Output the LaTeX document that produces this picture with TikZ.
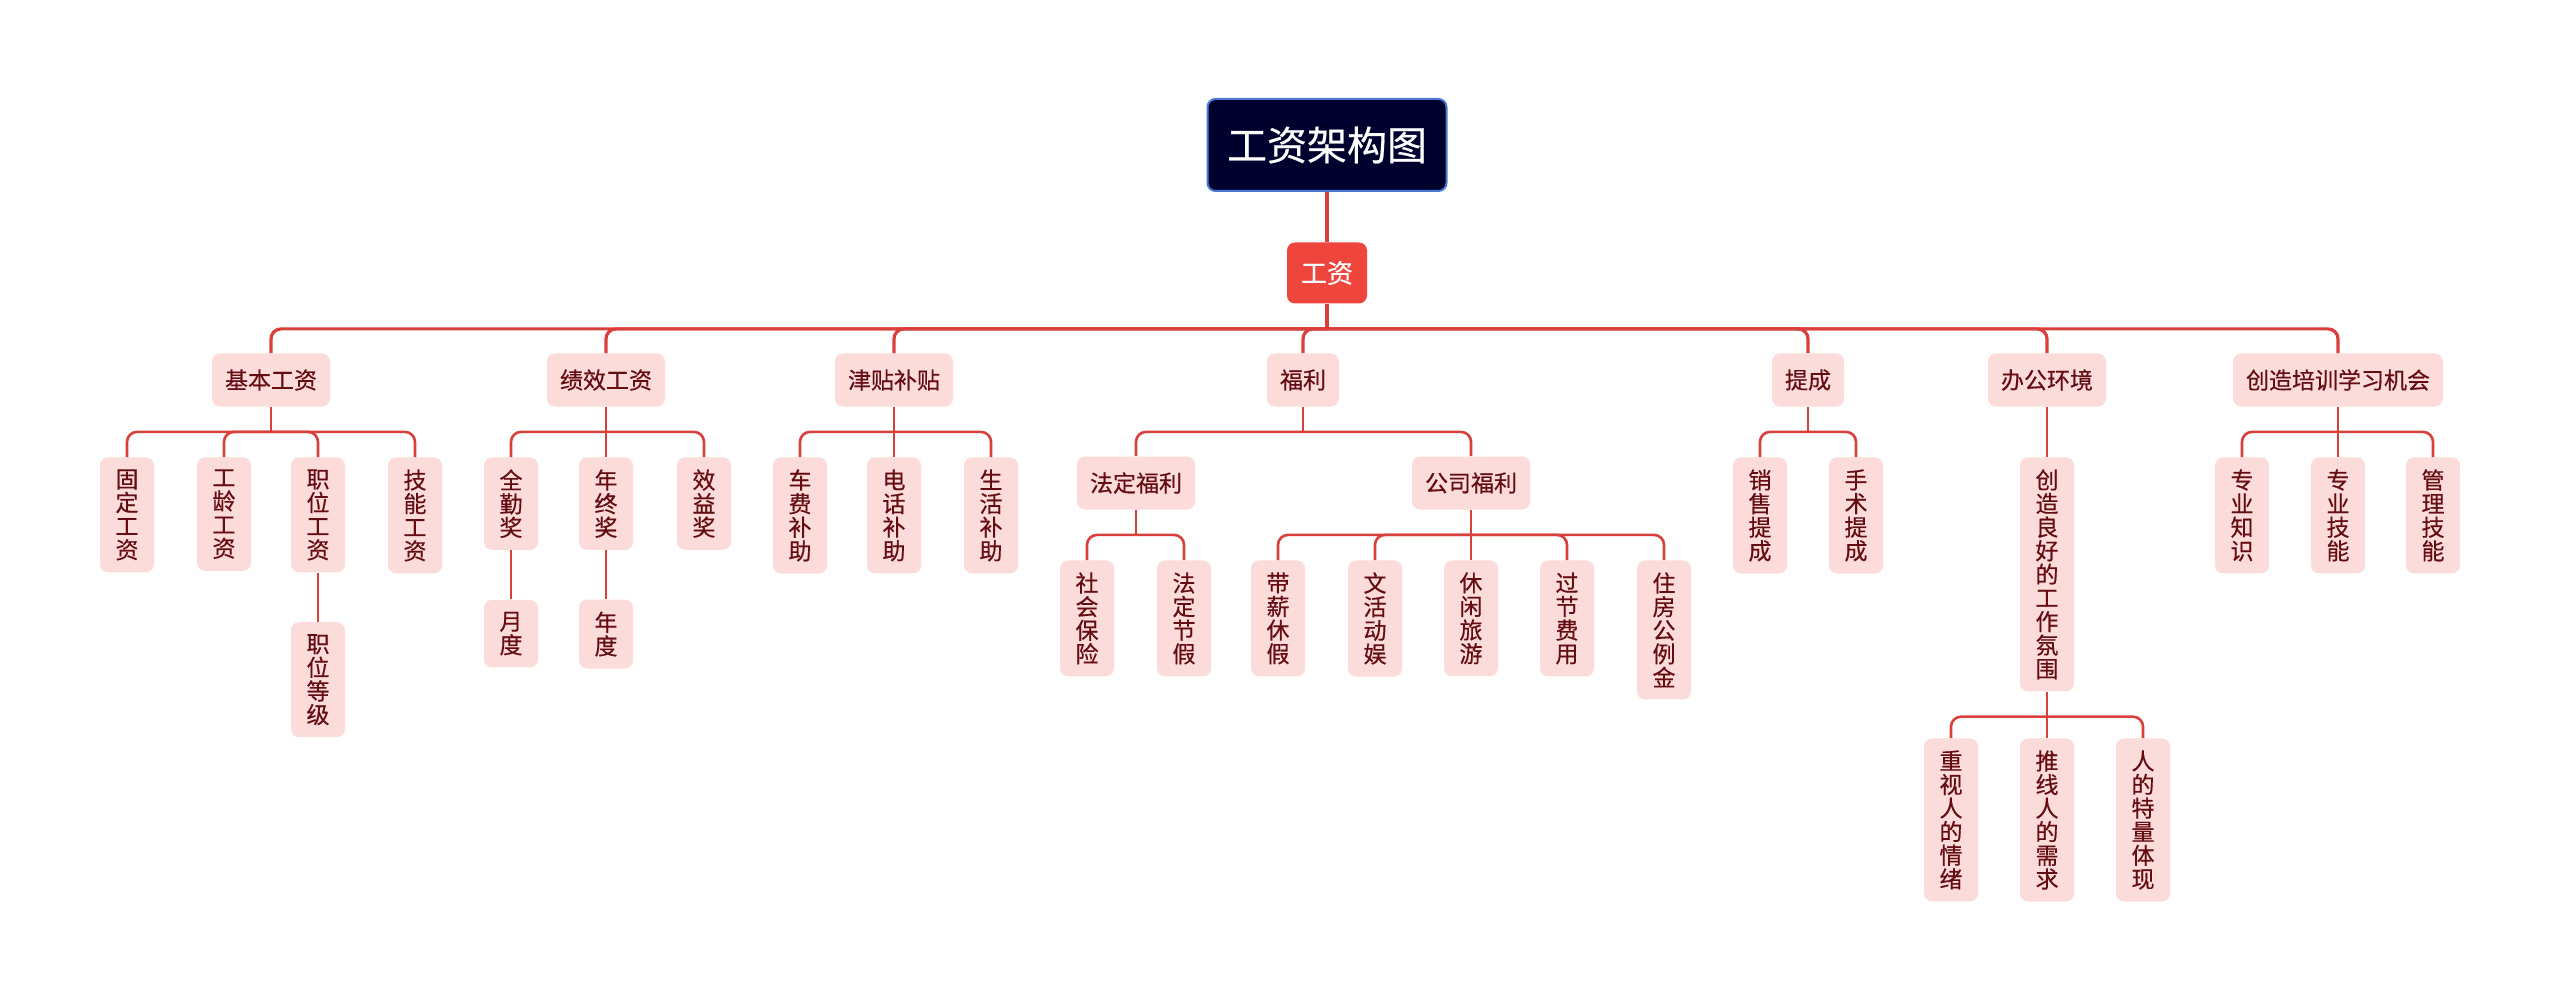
\documentclass[tikz,border=0pt]{standalone}
\usepackage{fontspec}
\setmainfont{Noto Sans CJK SC}[UprightFeatures={FakeBold=0.4}]
\usetikzlibrary{positioning}
\definecolor{rootbg}{HTML}{00002E}
\definecolor{rootline}{HTML}{4A7BD4}
\definecolor{mainred}{HTML}{EE463C}
\definecolor{linkred}{HTML}{D9403C}
\definecolor{boxpink}{HTML}{FCDCDA}
\definecolor{boxtext}{HTML}{640C12}

\begin{document}
\begin{tikzpicture}[x=0.5pt,y=-0.5pt,
 root/.style={draw=rootline,line width=1pt,fill=rootbg,text=white,rounded corners=4pt,minimum width=119.5pt,minimum height=46pt,font=\fontsize{20}{24}\selectfont},
 main/.style={fill=mainred,text=white,rounded corners=4pt,minimum width=40pt,minimum height=30.5pt,font=\fontsize{13}{15}\selectfont},
 topic/.style={fill=boxpink,text=boxtext,rounded corners=4pt,minimum height=26.5pt,inner xsep=6.5pt,font=\fontsize{11.5}{12}\selectfont},
 leaf/.style={topic,anchor=north,align=center,minimum width=27pt,minimum height=0pt,inner ysep=6pt,font=\fontsize{11.5}{11.8}\selectfont},
 trunk/.style={draw=linkred,line width=2pt},
 bus/.style={draw=linkred,line width=1.6pt,rounded corners=5pt},
 link/.style={draw=linkred,line width=1.3pt,rounded corners=5pt}]
 \useasboundingbox (0,0) rectangle (2560,1000);

 \node[root] (gzjg) at (1327,145) {工资架构图};
 \node[main] (gz) at (1327,273) {工资};

 \node[topic] (jb) at (271,380) {基本工资};
 \node[topic] (jx) at (606,380) {绩效工资};
 \node[topic] (jt) at (894,380) {津贴补贴};
 \node[topic] (fl) at (1303,380) {福利};
 \node[topic] (tc) at (1808,380) {提成};
 \node[topic] (bg) at (2047,380) {办公环境};
 \node[topic] (px) at (2338,380) {创造培训学习机会};

 \node[leaf] (gd) at (127,457) {固\\定\\工\\资};
 \node[leaf] (gl) at (224,457) {工\\龄\\工\\资};
 \node[leaf] (zw) at (318,457) {职\\位\\工\\资};
 \node[leaf] (jn) at (415,457) {技\\能\\工\\资};
 \node[leaf,below=24.5pt of zw] (zd) {职\\位\\等\\级};

 \node[leaf] (qq) at (511,457) {全\\勤\\奖};
 \node[leaf] (nz) at (606,457) {年\\终\\奖};
 \node[leaf] (xy) at (704,457) {效\\益\\奖};
 \node[leaf,below=24.5pt of qq] (yd) {月\\度};
 \node[leaf,below=24.5pt of nz] (nd) {年\\度};

 \node[leaf] (cf) at (800,457) {车\\费\\补\\助};
 \node[leaf] (dh) at (894,457) {电\\话\\补\\助};
 \node[leaf] (sh) at (991,457) {生\\活\\补\\助};

 \node[topic] (fd) at (1136,483) {法定福利};
 \node[topic] (gs) at (1471,483) {公司福利};
 \node[leaf] (sb) at (1087,560) {社\\会\\保\\险};
 \node[leaf] (fj) at (1184,560) {法\\定\\节\\假};
 \node[leaf] (dx) at (1278,560) {带\\薪\\休\\假};
 \node[leaf] (wh) at (1375,560) {文\\活\\动\\娱};
 \node[leaf] (xx) at (1471,560) {休\\闲\\旅\\游};
 \node[leaf] (gf) at (1567,560) {过\\节\\费\\用};
 \node[leaf] (zf) at (1664,560) {住\\房\\公\\例\\金};

 \node[leaf] (xs) at (1760,457) {销\\售\\提\\成};
 \node[leaf] (ss) at (1856,457) {手\\术\\提\\成};

 \node[leaf] (cz) at (2047,457) {创\\造\\良\\好\\的\\工\\作\\氛\\围};
 \node[leaf] (zs) at (1951,738) {重\\视\\人\\的\\情\\绪};
 \node[leaf] (tx) at (2047,738) {推\\线\\人\\的\\需\\求};
 \node[leaf] (rd) at (2143,738) {人\\的\\特\\量\\体\\现};

 \node[leaf] (zszs) at (2242,457) {专\\业\\知\\识};
 \node[leaf] (zyjn) at (2338,457) {专\\业\\技\\能};
 \node[leaf] (gljn) at (2433,457) {管\\理\\技\\能};

 \draw[trunk] (gzjg) -- (gz);
 \draw[trunk] (gz.south) -- ++(0,25) coordinate (gz-b);
 \draw[bus] (gz-b) -| (jb.north);
 \draw[bus] (gz-b) -| (jx.north);
 \draw[bus] (gz-b) -| (jt.north);
 \draw[bus] (gz-b) -| (fl.north);
 \draw[bus] (gz-b) -| (tc.north);
 \draw[bus] (gz-b) -| (bg.north);
 \draw[bus] (gz-b) -| (px.north);

 \draw[link] (jb.south) -- ++(0,25) coordinate (jb-b);
 \draw[link] (jb-b) -| (gd.north);
 \draw[link] (jb-b) -| (gl.north);
 \draw[link] (jb-b) -| (zw.north);
 \draw[link] (jb-b) -| (jn.north);
 \draw[link] (zw) -- (zd);

 \draw[link] (jx.south) -- ++(0,25) coordinate (jx-b);
 \draw[link] (jx-b) -| (qq.north);
 \draw[link] (jx-b) -| (nz.north);
 \draw[link] (jx-b) -| (xy.north);
 \draw[link] (qq) -- (yd);
 \draw[link] (nz) -- (nd);

 \draw[link] (jt.south) -- ++(0,25) coordinate (jt-b);
 \draw[link] (jt-b) -| (cf.north);
 \draw[link] (jt-b) -| (dh.north);
 \draw[link] (jt-b) -| (sh.north);

 \draw[link] (fl.south) -- ++(0,25) coordinate (fl-b);
 \draw[link] (fl-b) -| (fd.north);
 \draw[link] (fl-b) -| (gs.north);
 \draw[link] (fd.south) -- ++(0,25) coordinate (fd-b);
 \draw[link] (fd-b) -| (sb.north);
 \draw[link] (fd-b) -| (fj.north);
 \draw[link] (gs.south) -- ++(0,25) coordinate (gs-b);
 \draw[link] (gs-b) -| (dx.north);
 \draw[link] (gs-b) -| (wh.north);
 \draw[link] (gs-b) -| (xx.north);
 \draw[link] (gs-b) -| (gf.north);
 \draw[link] (gs-b) -| (zf.north);

 \draw[link] (tc.south) -- ++(0,25) coordinate (tc-b);
 \draw[link] (tc-b) -| (xs.north);
 \draw[link] (tc-b) -| (ss.north);

 \draw[link] (bg) -- (cz);
 \draw[link] (cz.south) -- ++(0,25) coordinate (cz-b);
 \draw[link] (cz-b) -| (zs.north);
 \draw[link] (cz-b) -| (tx.north);
 \draw[link] (cz-b) -| (rd.north);

 \draw[link] (px.south) -- ++(0,25) coordinate (px-b);
 \draw[link] (px-b) -| (zszs.north);
 \draw[link] (px-b) -| (zyjn.north);
 \draw[link] (px-b) -| (gljn.north);
\end{tikzpicture}
\end{document}
